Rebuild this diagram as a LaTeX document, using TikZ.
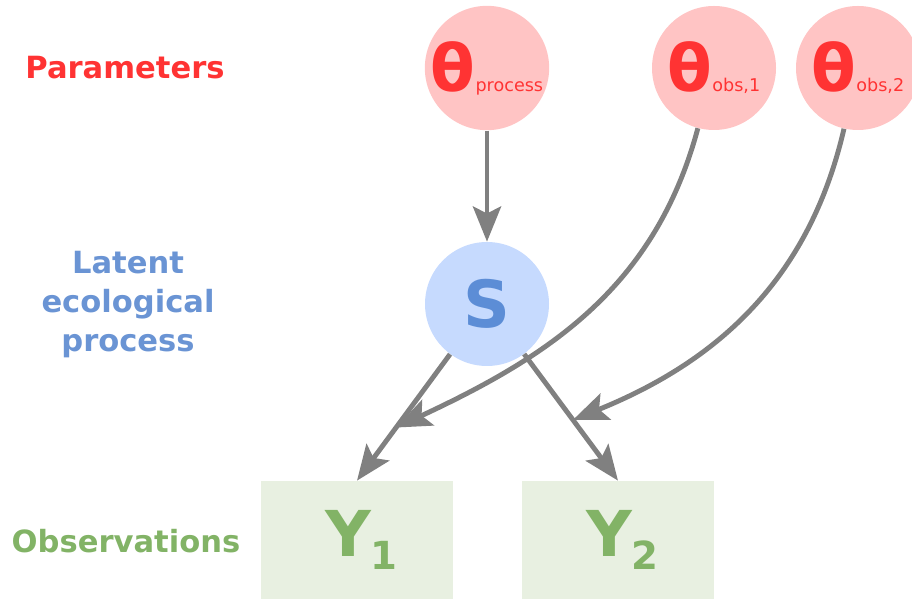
\documentclass[tikz,border=0pt]{standalone}
\usepackage{fontspec}
\setmainfont{DejaVu Sans}
\usetikzlibrary{arrows.meta}

\definecolor{parred}{HTML}{FF3333}
\definecolor{parfill}{HTML}{FFC4C4}
\definecolor{latblue}{HTML}{5C8DD6}
\definecolor{latlabel}{HTML}{6A94D4}
\definecolor{latfill}{HTML}{C6DAFE}
\definecolor{obsgreen}{HTML}{82B366}
\definecolor{obsfill}{HTML}{E8F0E1}
\definecolor{arrowgray}{HTML}{808080}

\begin{document}
\begin{tikzpicture}[
    param/.style={circle, fill=parfill, text=parred, minimum size=2.48cm, inner sep=0pt},
    latent/.style={circle, fill=latfill, text=latblue, minimum size=2.48cm, inner sep=0pt,
        font=\bfseries\fontsize{37}{40}\selectfont},
    obsbox/.style={rectangle, fill=obsfill, text=obsgreen, minimum width=3.84cm,
        minimum height=2.36cm, inner sep=0pt},
    rowlabel/.style={font=\bfseries\fontsize{17.4}{22.2}\selectfont, align=center},
    link/.style={draw=arrowgray, line width=2.8pt,
        -{Stealth[length=20pt, width=16pt, inset=4pt]}}
    ]
        \useasboundingbox (0,0) rectangle (18.24,11.98);

        % Parameters
        \node[param] (tp) at (9.74,10.62)
            {{\bfseries\fontsize{37}{40}\selectfont θ}{\fontsize{10}{12}\selectfont process}};
        \node[param] (to1) at (14.28,10.62)
            {{\bfseries\fontsize{37}{40}\selectfont θ}{\fontsize{10}{12}\selectfont obs,1}};
        \node[param] (to2) at (17.16,10.62)
            {{\bfseries\fontsize{37}{40}\selectfont θ}{\fontsize{10}{12}\selectfont obs,2}};

        % Latent process
        \node[latent] (s) at (9.74,5.90) {S};

        % Observations
        \node[obsbox] (y1) at (7.14,1.18)
            {\hspace*{5pt}\bfseries{\fontsize{36}{40}\selectfont Y}\raisebox{-7pt}{\fontsize{22}{25}\selectfont 1}};
        \node[obsbox] (y2) at (12.36,1.18)
            {\hspace*{5pt}\bfseries{\fontsize{36}{40}\selectfont Y}\raisebox{-7pt}{\fontsize{22}{25}\selectfont 2}};

        % Row labels
        \node[rowlabel, text=parred] (lpar) at (2.50,10.62) {Parameters};
        \node[rowlabel, text=latlabel] (llat) at (2.56,5.88) {Latent\\ecological\\process};
        \node[rowlabel, text=obsgreen] (lobs) at (2.52,1.16) {Observations};

        % Points where the observation parameters act
        \path (s) -- (y1.north) coordinate[pos=0.58] (m1);
        \path (s) -- (y2.north) coordinate[pos=0.52] (m2);

        % Arrows
        \draw[link] (tp) -- (s);
        \draw[link] (s) -- (y1.north);
        \draw[link] (s) -- (y2.north);
        \draw[link] (to1) to[out=255, in=25] (m1);
        \draw[link] (to2) to[out=257, in=22] (m2);

    \end{tikzpicture}
\end{document}
